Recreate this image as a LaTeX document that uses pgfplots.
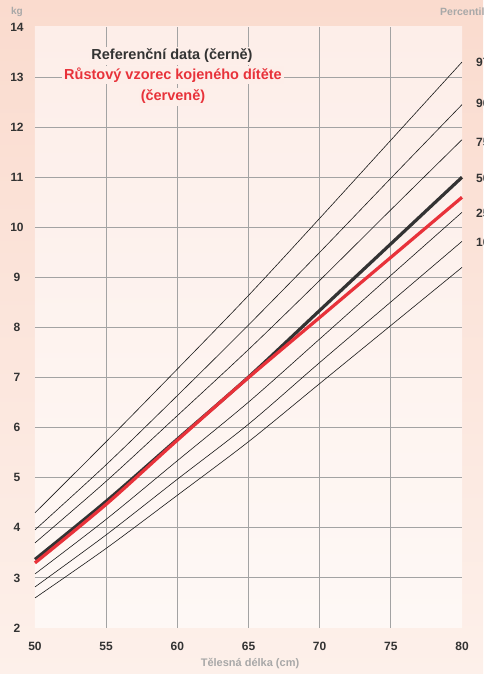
\documentclass[border=0pt]{standalone}
\usepackage{fontspec}
\setmainfont{Liberation Sans}
\usepackage{pgfplots}
\pgfplotsset{compat=1.18}
\definecolor{bgtop}{HTML}{FADBCE}
\definecolor{bgbot}{HTML}{FDF0EA}
\definecolor{pantop}{HTML}{FDEEE9}
\definecolor{panbot}{HTML}{FEF8F5}
\definecolor{dark}{HTML}{333333}
\definecolor{redc}{HTML}{E8323A}
\definecolor{gridc}{HTML}{A3A3A3}
\definecolor{lgray}{HTML}{A8A8A8}
\begin{document}
\begin{tikzpicture}[x=1pt,y=1pt]
\shade[top color=bgtop, bottom color=bgbot] (0,0) rectangle (483,674);
\node[text=lgray, font=\bfseries\fontsize{10}{10}\selectfont] at (17,662) {kg};
\node[text=lgray, font=\bfseries\fontsize{10.5}{10.5}\selectfont, anchor=west, inner sep=0pt] at (440,662) {Percentil};
\node[text=lgray, font=\bfseries\fontsize{11}{11}\selectfont] at (250,10) {Tělesná délka (cm)};
\begin{axis}[at={(35pt,46pt)}, anchor=south west, scale only axis,
  width=427pt, height=601pt,
  xmin=50, xmax=80, ymin=2, ymax=14,
  axis line style={draw=none},
  axis background/.style={top color=pantop, bottom color=panbot},
  xtick={55,60,...,75}, ytick={3,...,13},
  extra x ticks={50,80}, extra y ticks={2,14},
  extra tick style={grid=none},
  grid=major, major grid style={gridc, line width=0.9pt},
  major tick length=0pt, tick style={draw=none},
  ticklabel style={font=\bfseries\fontsize{12}{12}\selectfont, text=dark},
  /pgf/number format/assume math mode=true,
  xticklabel style={anchor=center, yshift=-18pt},
  yticklabel style={anchor=center, xshift=-18pt},
  clip=false]
\pgfplotsset{thin/.style={black!90, line width=0.6pt, smooth}}
% 97
\addplot[thin] coordinates {(50,4.30) (55,5.72) (60,7.17) (65,8.64) (70,10.18) (75,11.74) (80,13.30)};
% 90
\addplot[thin] coordinates {(50,3.96) (55,5.26) (60,6.64) (65,8.05) (70,9.50) (75,10.98) (80,12.45)};
% 75
\addplot[thin] coordinates {(50,3.70) (55,4.93) (60,6.24) (65,7.56) (70,8.94) (75,10.35) (80,11.75)};
% 25
\addplot[thin] coordinates {(50,3.08) (55,4.17) (60,5.34) (65,6.51) (70,7.77) (75,9.04) (80,10.30)};
% 10
\addplot[thin] coordinates {(50,2.82) (55,3.86) (60,4.97) (65,6.07) (70,7.30) (75,8.51) (80,9.72)};
% 3
\addplot[thin] coordinates {(50,2.60) (55,3.59) (60,4.65) (65,5.72) (70,6.88) (75,8.04) (80,9.20)};
% 50 (reference, thick black)
\addplot[color=dark, line width=3.2pt, smooth] coordinates {(50,3.37) (55,4.53) (60,5.77) (65,7.01) (70,8.34) (75,9.67) (80,11.00)};
% child (red)
\addplot[color=redc, line width=3.2pt, smooth] coordinates {(50,3.30) (55,4.47) (60,5.75) (65,7.00) (70,8.20) (75,9.40) (80,10.60)};
% percentile labels
\node[anchor=west, inner sep=0pt, xshift=14pt, text=dark, font=\bfseries\fontsize{12}{12}\selectfont] at (axis cs:80,13.30) {97};
\node[anchor=west, inner sep=0pt, xshift=14pt, text=dark, font=\bfseries\fontsize{12}{12}\selectfont] at (axis cs:80,12.47) {90};
\node[anchor=west, inner sep=0pt, xshift=14pt, text=dark, font=\bfseries\fontsize{12}{12}\selectfont] at (axis cs:80,11.70) {75};
\node[anchor=west, inner sep=0pt, xshift=14pt, text=dark, font=\bfseries\fontsize{12}{12}\selectfont] at (axis cs:80,10.98) {50};
\node[anchor=west, inner sep=0pt, xshift=14pt, text=dark, font=\bfseries\fontsize{12}{12}\selectfont] at (axis cs:80,10.28) {25};
\node[anchor=west, inner sep=0pt, xshift=14pt, text=dark, font=\bfseries\fontsize{12}{12}\selectfont] at (axis cs:80,9.70) {10};
\end{axis}
\node[fill=pantop, inner sep=2pt, text=dark, font=\bfseries\fontsize{14.5}{14.5}\selectfont] at (172,618) {Referenční data (černě)};
\node[fill=pantop, inner sep=2pt, text=redc, font=\bfseries\fontsize{14.5}{14.5}\selectfont] at (173,599) {Růstový vzorec kojeného dítěte};
\node[fill=pantop, inner sep=2pt, text=redc, font=\bfseries\fontsize{14.5}{14.5}\selectfont] at (173,577) {(červeně)};
\pgfresetboundingbox
\useasboundingbox (0,0) rectangle (483,674);
\end{tikzpicture}
\end{document}
